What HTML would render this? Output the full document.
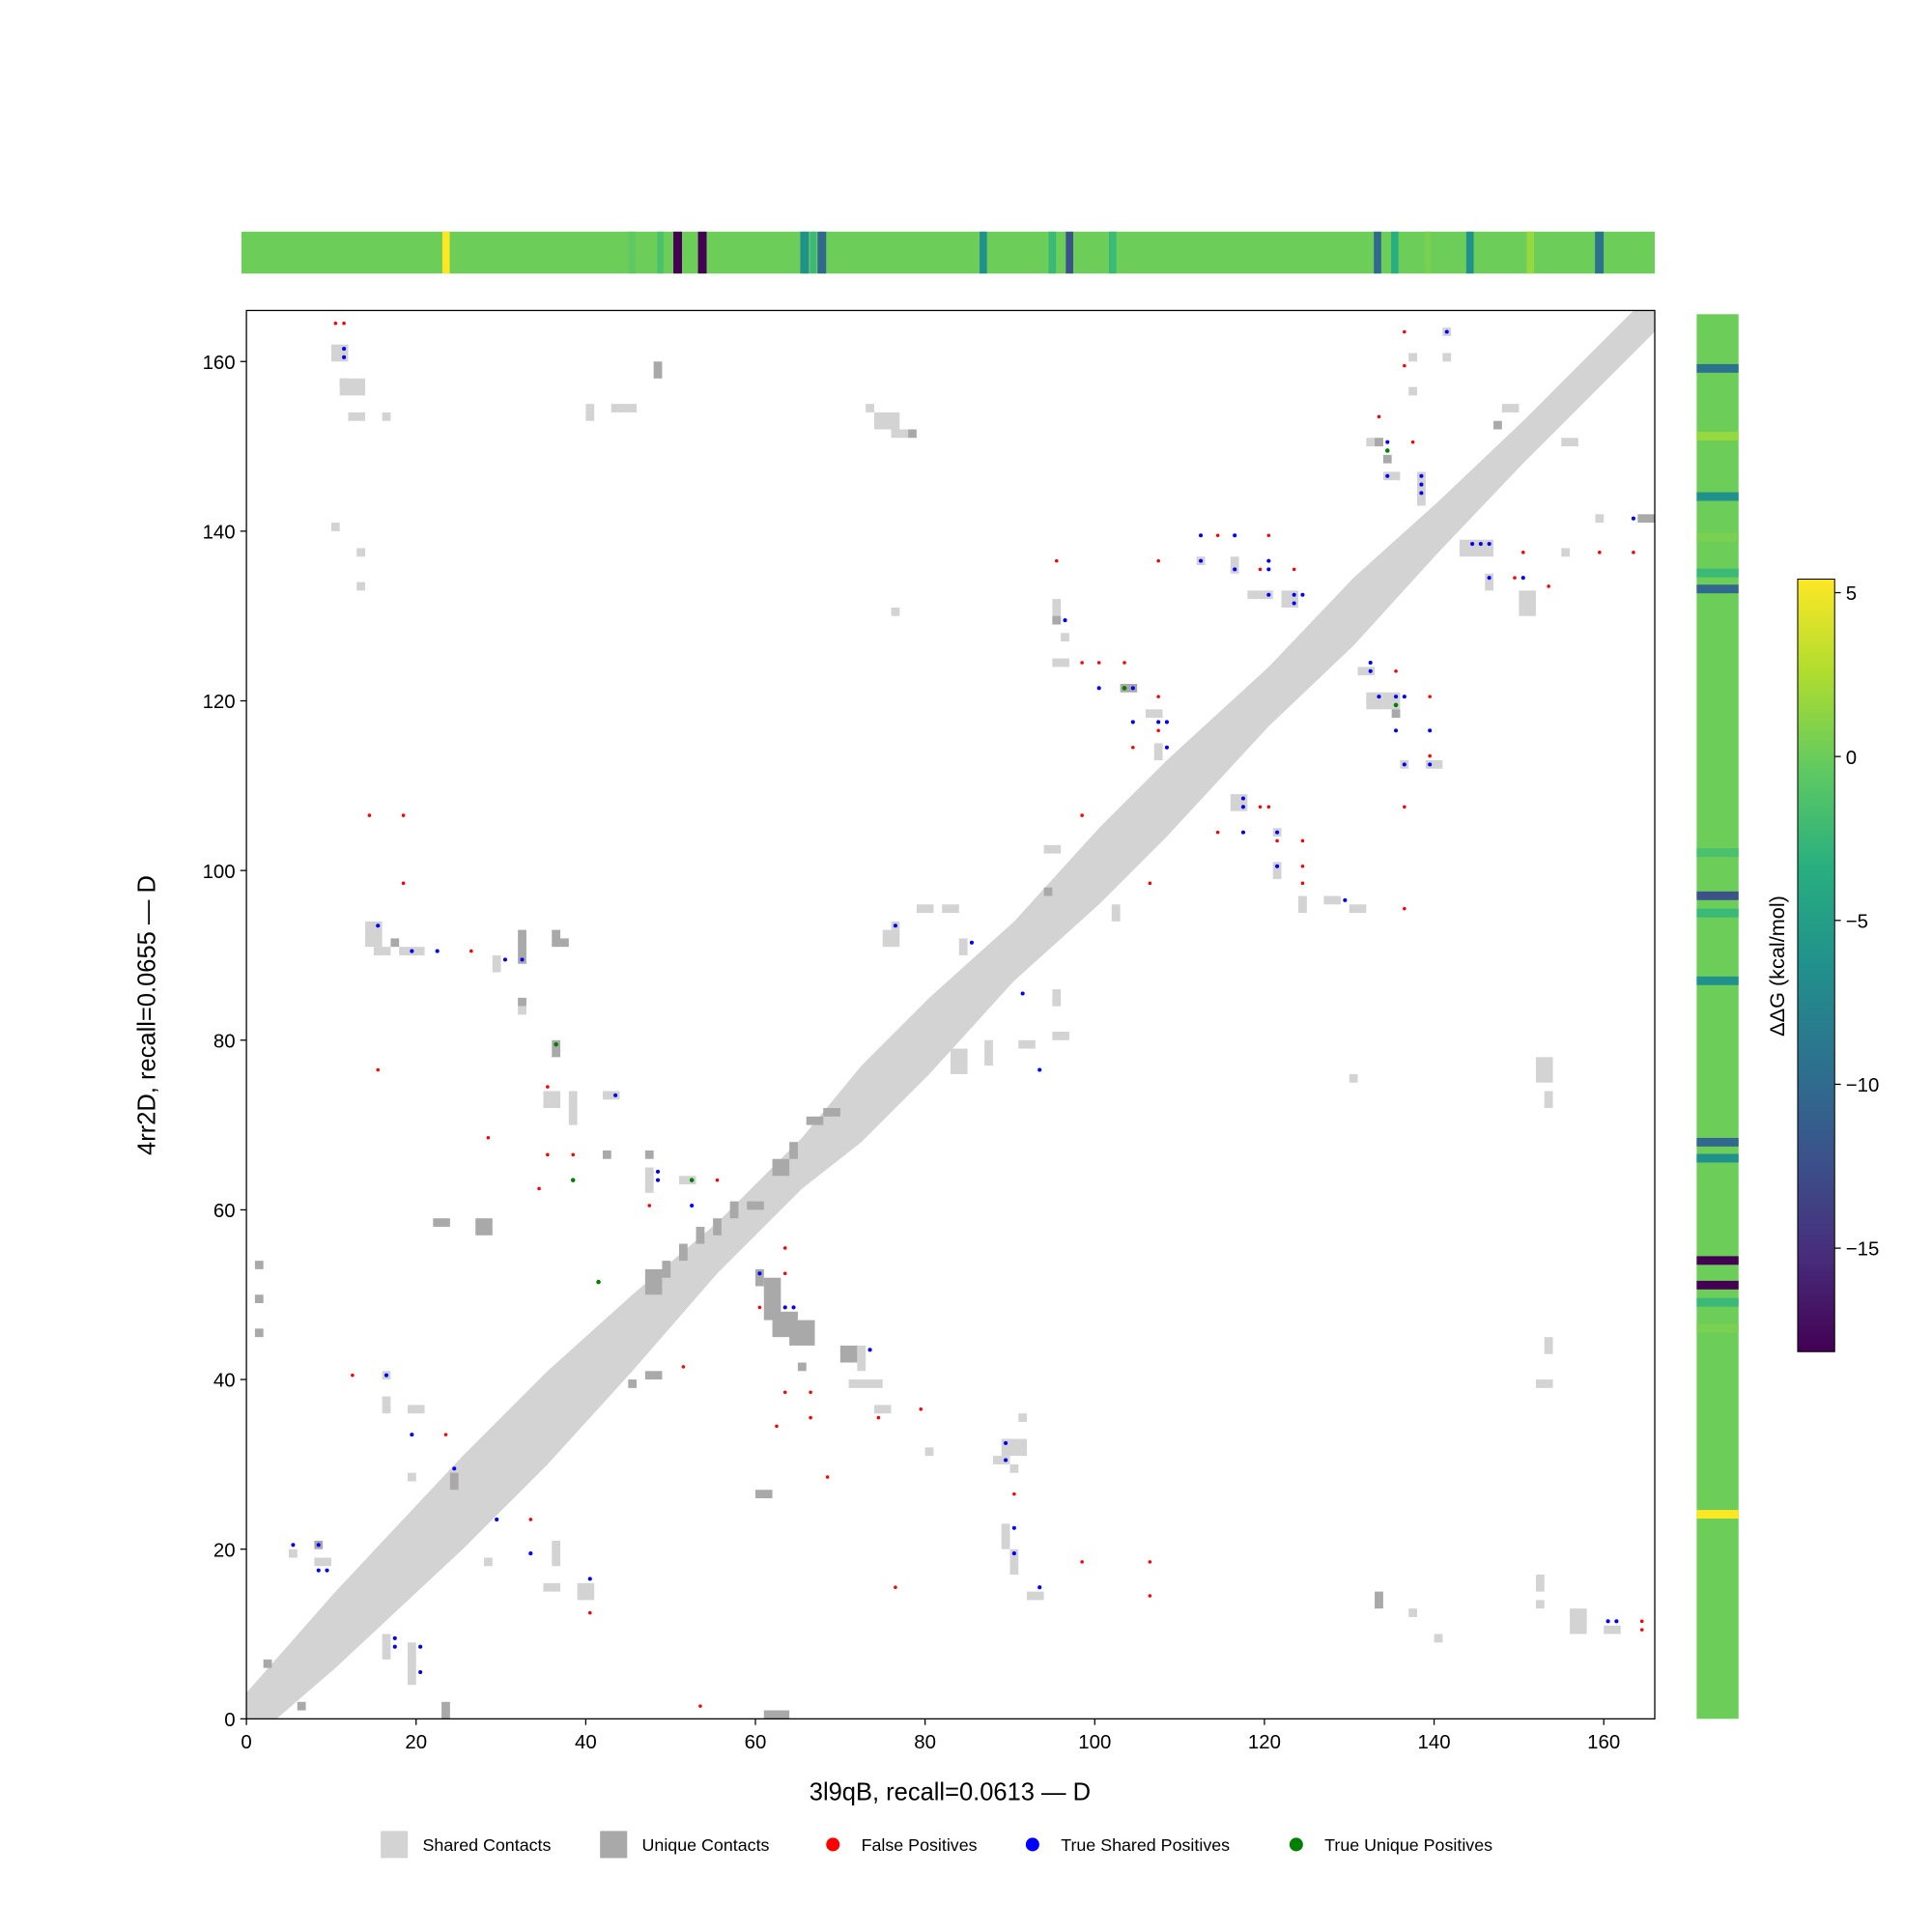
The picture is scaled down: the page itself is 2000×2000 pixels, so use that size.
<!DOCTYPE html>
<html><head><meta charset="utf-8"><style>html,body{margin:0;padding:0;background:#fff}svg{display:block}</style></head>
<body>
<svg id="s" width="2000" height="2000" viewBox="0 0 1568 1568" xmlns="http://www.w3.org/2000/svg" font-family="Liberation Sans, DejaVu Sans, sans-serif">
<defs>
<linearGradient id="vir" x1="0" y1="1" x2="0" y2="0">
<stop offset="0" stop-color="#440154"/><stop offset="0.125" stop-color="#472d7b"/><stop offset="0.25" stop-color="#3b528b"/><stop offset="0.375" stop-color="#2c728e"/><stop offset="0.5" stop-color="#21918c"/><stop offset="0.625" stop-color="#28ae80"/><stop offset="0.75" stop-color="#5ec962"/><stop offset="0.875" stop-color="#addc30"/><stop offset="1" stop-color="#fde725"/>
</linearGradient>
<clipPath id="cp"><rect x="200" y="252" width="1143" height="1143"/></clipPath>
</defs>
<g id="top"></g>
<g id="right"></g>
<g clip-path="url(#cp)"><g id="band"></g><g id="cells"></g><g id="dots"></g></g>
<rect x="200" y="252" width="1143" height="1143" fill="none" stroke="#000" stroke-width="1"/>
<g id="ticks" font-size="16" fill="#000"></g>
<text x="771" y="1461" font-size="20" text-anchor="middle">3l9qB, recall=0.0613 — D</text>
<text transform="translate(126,824) rotate(-90)" font-size="20" text-anchor="middle">4rr2D, recall=0.0655 — D</text>
<rect x="1459" y="470" width="30" height="627" fill="url(#vir)" stroke="#000" stroke-width="0.8"/>
<g font-size="16">
<line x1="1489" y1="481" x2="1494" y2="481" stroke="#000"/><text x="1498" y="487">5</text>
<line x1="1489" y1="614" x2="1494" y2="614" stroke="#000"/><text x="1498" y="620">0</text>
<line x1="1489" y1="747" x2="1494" y2="747" stroke="#000"/><text x="1498" y="753">−5</text>
<line x1="1489" y1="880" x2="1494" y2="880" stroke="#000"/><text x="1498" y="886">−10</text>
<line x1="1489" y1="1013" x2="1494" y2="1013" stroke="#000"/><text x="1498" y="1019">−15</text>
</g>
<text transform="translate(1448,784) rotate(-90)" font-size="17" text-anchor="middle">ΔΔG (kcal/mol)</text>
<g font-size="14">
<rect x="309" y="1486" width="22" height="22" fill="#d3d3d3"/><text x="343" y="1502">Shared Contacts</text>
<rect x="487" y="1486" width="22" height="22" fill="#a9a9a9"/><text x="521" y="1502">Unique Contacts</text>
<circle cx="676" cy="1497" r="5.5" fill="red"/><text x="699" y="1502">False Positives</text>
<circle cx="838" cy="1497" r="5.5" fill="blue"/><text x="861" y="1502">True Shared Positives</text>
<circle cx="1052" cy="1497" r="5.5" fill="green"/><text x="1075" y="1502">True Unique Positives</text>
</g>
</svg>
<script>
const NS="http://www.w3.org/2000/svg",U=6.885;
const X=i=>200+i*U, Y=j=>1395-j*U;
function el(p,t,a){const e=document.createElementNS(NS,t);for(const k in a)e.setAttribute(k,a[k]);document.getElementById(p).appendChild(e);return e;}
el("top","rect",{x:196,y:188,width:1147,height:34,fill:"#6ccd59"});
const ts=[[362,"#fde725",6],[513,"#5ec962",6],[536,"#4ac16d",5],[550,"#440154",7],[570,"#440154",7],[653,"#21918c",7],[660,"#3aba76",5],[667,"#31688e",7],[798,"#21918c",6],[854,"#3aba76",6],[868,"#3b528b",6],[903,"#3aba76",6],[1118,"#31688e",6],[1132,"#28ae80",6],[1159,"#7ad151",5],[1193,"#21918c",6],[1242,"#95d840",6],[1298,"#2c728e",7]];
ts.forEach(s=>el("top","rect",{x:s[0]-s[2]/2,y:188,width:s[2],height:34,fill:s[1]}));
el("right","rect",{x:1377,y:255,width:34,height:1140,fill:"#6ccd59"});
const rs=[[299,"#2c728e"],[354,"#95d840"],[403,"#21918c"],[436,"#7ad151"],[465,"#3aba76"],[478,"#31688e"],[692,"#4ac16d"],[727,"#3b528b"],[741,"#3aba76"],[796,"#21918c"],[927,"#31688e"],[940,"#21918c"],[1023,"#440154"],[1043,"#440154"],[1057,"#3aba76"],[1078,"#7ad151"],[1229,"#fde725"]];
rs.forEach(s=>el("right","rect",{x:1377,y:s[0]-3.5,width:34,height:7,fill:s[1]}));
const w=[[-1,2.5],[10,4],[25,5],[35,5],[45,4],[55,2.5],[65,2.5],[72,4],[80,4],[90,3],[100,4],[108,4],[120,3],[130,3.5],[140,2.5],[150,2],[167,2]];
let up=[],lo=[];
w.forEach(p=>{const c=p[0]+0.5;up.push(X(c)+","+Y(c+p[1]+0.5));lo.unshift(X(c)+","+Y(c-p[1]-0.5));});
el("band","polygon",{points:up.concat(lo).join(" "),fill:"#d3d3d3"});
const L="#d3d3d3",D="#a9a9a9";
const cells=[[10,160,2,2,L],[11,157,1,1,D],[11,156,3,2,L],[12,153,2,1,L],[16,153,1,1,L],[48,158,1,2,D],[40,153,1,2,L],[43,154,3,1,L],[73,154,1,1,L],[74,152,3,2,L],[76,151,2,1,L],[78,151,1,1,D],[10,140,1,1,L],[13,137,1,1,L],[13,133,1,1,L],[76,130,1,1,L],
[14,91,2,3,L],[15,90,2,1,L],[17,91,1,1,D],[18,90,3,1,L],[29,88,1,2,L],[32,89,1,4,D],[36,91,1,2,D],[37,91,1,1,D],[32,84,1,1,D],[32,83,1,1,L],[36,78,1,2,D],[35,72,2,2,L],[38,70,1,4,L],[42,73,2,1,L],[42,66,1,1,D],[47,66,1,1,D],[22,58,2,1,D],[27,57,2,2,D],[47,62,1,3,L],[51,63,2,1,L],
[1,53,1,1,D],[1,49,1,1,D],[1,45,1,1,D],[23,0,1,2,D],[61,0,3,1,D],[6,1,1,1,D],[2,6,1,1,D],
[60,51,1,2,D],[61,47,2,5,D],[62,45,3,3,D],[64,44,3,3,D],[65,41,1,1,D],[70,42,2,2,D],[72,41,1,3,L],[71,39,4,1,L],[74,36,2,1,L],[60,26,2,1,D],[47,40,2,1,D],[45,39,1,1,D],
[47,50,2,3,D],[49,52,1,2,D],[51,54,1,2,D],[53,56,1,2,D],[55,57,1,2,D],[57,59,1,2,D],[59,60,2,1,D],[62,64,2,2,D],[64,66,1,2,D],[66,70,2,1,D],[68,71,2,1,D],
[16,40,1,1,L],[16,36,1,2,L],[19,36,2,1,L],[19,28,1,1,L],[24,27,1,2,D],[28,18,1,1,L],[36,18,1,3,L],[35,15,2,1,L],[39,14,2,2,L],[8,18,2,1,L],[8,20,1,1,D],[5,19,1,1,L],[16,7,1,3,L],[19,4,1,5,L],
[88,30,2,1,L],[89,31,3,2,L],[91,35,1,1,L],[90,29,1,1,L],[80,31,1,1,L],[92,14,2,1,L],[90,17,1,3,L],[89,20,1,3,L],
[130,75,1,1,L],[152,75,2,3,L],[153,72,1,2,L],[153,43,1,2,L],[152,39,2,1,L],[152,15,1,2,L],[152,13,1,1,L],[156,10,2,3,L],[160,10,2,1,L],[133,13,1,2,D],[137,12,1,1,L],[140,9,1,1,L],
[95,129,1,3,L],[95,129,1,1,D],[95,124,2,1,L],[96,127,1,1,L],[83,76,2,3,L],[87,77,1,3,L],[91,79,2,1,L],[95,80,2,1,L],[95,84,1,2,L],[76,93,1,1,L],[79,95,2,1,L],[75,91,2,2,L],[82,95,2,1,L],[84,90,1,2,L],[94,97,1,1,D],[94,102,2,1,L],[102,94,1,2,L],
[103,121,2,1,D],[106,118,2,1,L],[107,113,1,2,L],[112,136,1,1,L],[116,135,1,2,L],[118,132,3,1,L],[122,131,2,2,L],[116,107,2,2,L],[121,104,1,1,L],[121,99,1,2,L],[124,95,1,2,L],[127,96,2,1,L],[130,95,2,1,L],[131,123,2,1,L],[132,119,2,2,L],[134,119,2,2,L],[135,118,1,1,D],[136,112,1,1,L],[139,112,2,1,L],[132,150,2,1,L],[133,150,1,1,D],[134,148,1,1,D],[134,146,2,1,L],[138,143,1,4,L],[137,160,1,1,L],[137,156,1,1,L],[141,163,1,1,L],[141,160,1,1,L],[143,137,4,2,L],[146,133,1,2,L],[150,130,2,3,L],[155,137,1,1,L],[159,141,1,1,L],[164,141,2,1,D],[148,154,2,1,L],[147,152,1,1,D],[155,150,2,1,L]];
cells.forEach(c=>el("cells","rect",{x:X(c[0]),y:Y(c[1]+c[3]),width:c[2]*U,height:c[3]*U,fill:c[4]}));
const red=[[10,164],[11,164],[14,106],[18,106],[18,98],[15,76],[26,90],[28,68],[34,62],[35,66],[38,66],[35,74],[40,12],[12,40],[23,33],[33,23],[47,60],[51,41],[53,1],[55,63],[60,48],[63,55],[63,52],[63,38],[66,38],[66,35],[62,34],[68,28],[74,35],[79,36],[76,15],[90,26],[98,18],[106,18],[106,14],[95,136],[98,124],[100,124],[103,124],[107,136],[107,120],[107,116],[104,114],[98,106],[106,98],[114,139],[114,104],[119,135],[120,139],[120,107],[119,107],[121,103],[123,135],[124,103],[124,100],[124,98],[133,153],[136,163],[136,159],[137,150],[135,123],[136,107],[139,120],[136,95],[139,113],[150,137],[149,134],[153,133],[159,137],[163,137],[164,11],[164,10]];
const blue=[[11,161],[11,160],[15,93],[19,90],[22,90],[30,89],[32,89],[43,73],[48,64],[48,63],[52,60],[16,40],[19,33],[24,29],[29,23],[33,19],[40,16],[5,20],[8,20],[8,17],[9,17],[17,9],[17,8],[20,8],[20,5],[60,52],[63,48],[64,48],[73,43],[76,93],[85,91],[91,85],[93,76],[89,32],[89,30],[90,22],[90,19],[93,15],[96,129],[100,121],[104,121],[104,117],[108,117],[107,117],[108,114],[112,139],[112,136],[116,139],[116,135],[117,108],[117,107],[117,104],[120,136],[120,135],[120,132],[121,104],[121,100],[123,132],[123,131],[124,132],[129,96],[132,123],[132,124],[133,120],[134,150],[134,146],[135,120],[136,120],[135,116],[136,112],[138,146],[138,145],[138,144],[139,116],[139,112],[141,163],[144,138],[145,138],[146,138],[146,134],[150,134],[160,11],[161,11],[163,141]];
const grn=[[36,79],[38,63],[41,51],[52,63],[103,121],[134,149],[135,119]];
red.forEach(p=>el("dots","circle",{cx:X(p[0]+0.5),cy:Y(p[1]+0.5),r:1.4,fill:"red"}));
blue.forEach(p=>el("dots","circle",{cx:X(p[0]+0.5),cy:Y(p[1]+0.5),r:1.6,fill:"blue"}));
grn.forEach(p=>el("dots","circle",{cx:X(p[0]+0.5),cy:Y(p[1]+0.5),r:1.8,fill:"green"}));
for(let v=0;v<=160;v+=20){
 el("ticks","line",{x1:X(v),y1:1395,x2:X(v),y2:1400,stroke:"#000"});
 const t=el("ticks","text",{x:X(v),y:1419,"text-anchor":"middle"});t.textContent=v;
 el("ticks","line",{x1:195,y1:Y(v),x2:200,y2:Y(v),stroke:"#000"});
 const u=el("ticks","text",{x:191,y:Y(v)+6,"text-anchor":"end"});u.textContent=v;
}
</script>
</body></html>
